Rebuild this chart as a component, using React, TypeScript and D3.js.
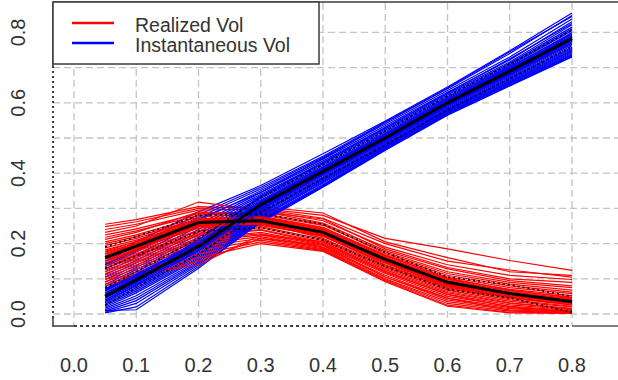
import React from "react";
import * as d3 from "d3";

const xPoints = [0.05, 0.1, 0.2, 0.3, 0.4, 0.5, 0.6, 0.7, 0.8];
const xTicks = [0, 0.1, 0.2, 0.3, 0.4, 0.5, 0.6, 0.7, 0.8];
const yTicks = [0, 0.2, 0.4, 0.6, 0.8];
const yGrid = [0, 0.1, 0.2, 0.3, 0.4, 0.5, 0.6, 0.7, 0.8];
const legendLabels = ["Realized Vol", "Instantaneous Vol"];

const realizedPaths = [
  [0.255, 0.268, 0.305, 0.300, 0.280, 0.215, 0.185, 0.152, 0.124],
  [0.248, 0.262, 0.300, 0.305, 0.287, 0.205, 0.160, 0.120, 0.110],
  [0.240, 0.255, 0.295, 0.298, 0.272, 0.200, 0.150, 0.125, 0.105],
  [0.232, 0.250, 0.318, 0.295, 0.265, 0.190, 0.140, 0.110, 0.098],
  [0.225, 0.242, 0.285, 0.290, 0.270, 0.185, 0.132, 0.100, 0.090],
  [0.218, 0.236, 0.280, 0.292, 0.258, 0.180, 0.128, 0.095, 0.080],
  [0.212, 0.232, 0.290, 0.282, 0.252, 0.176, 0.120, 0.090, 0.075],
  [0.205, 0.225, 0.275, 0.286, 0.255, 0.172, 0.115, 0.085, 0.068],
  [0.200, 0.220, 0.270, 0.278, 0.246, 0.168, 0.110, 0.080, 0.062],
  [0.195, 0.215, 0.268, 0.275, 0.240, 0.165, 0.105, 0.075, 0.058],
  [0.188, 0.210, 0.262, 0.272, 0.238, 0.160, 0.100, 0.070, 0.052],
  [0.182, 0.205, 0.258, 0.268, 0.233, 0.158, 0.095, 0.066, 0.048],
  [0.176, 0.200, 0.265, 0.262, 0.228, 0.152, 0.092, 0.060, 0.044],
  [0.170, 0.195, 0.252, 0.266, 0.236, 0.150, 0.088, 0.057, 0.040],
  [0.165, 0.190, 0.248, 0.258, 0.225, 0.148, 0.085, 0.055, 0.036],
  [0.160, 0.186, 0.244, 0.255, 0.220, 0.145, 0.082, 0.050, 0.032],
  [0.155, 0.182, 0.250, 0.252, 0.222, 0.140, 0.078, 0.046, 0.030],
  [0.150, 0.178, 0.238, 0.260, 0.215, 0.138, 0.075, 0.044, 0.026],
  [0.145, 0.172, 0.235, 0.248, 0.212, 0.134, 0.072, 0.040, 0.022],
  [0.140, 0.168, 0.230, 0.245, 0.208, 0.130, 0.068, 0.036, 0.020],
  [0.135, 0.165, 0.226, 0.240, 0.204, 0.126, 0.064, 0.032, 0.016],
  [0.130, 0.160, 0.222, 0.238, 0.200, 0.122, 0.060, 0.030, 0.014],
  [0.125, 0.155, 0.215, 0.232, 0.198, 0.118, 0.056, 0.026, 0.012],
  [0.120, 0.150, 0.210, 0.228, 0.195, 0.115, 0.050, 0.022, 0.010],
  [0.115, 0.146, 0.205, 0.225, 0.190, 0.110, 0.045, 0.018, 0.008],
  [0.110, 0.140, 0.198, 0.220, 0.188, 0.105, 0.040, 0.015, 0.006],
  [0.104, 0.135, 0.190, 0.215, 0.185, 0.100, 0.035, 0.012, 0.005],
  [0.098, 0.128, 0.180, 0.210, 0.182, 0.098, 0.030, 0.008, 0.004],
  [0.092, 0.120, 0.170, 0.205, 0.180, 0.095, 0.025, 0.005, 0.003],
  [0.085, 0.112, 0.160, 0.200, 0.178, 0.092, 0.022, 0.003, 0.002],
  [0.080, 0.105, 0.150, 0.215, 0.195, 0.105, 0.045, 0.010, 0.004],
  [0.100, 0.110, 0.140, 0.225, 0.205, 0.120, 0.055, 0.020, 0.006],
  [0.165, 0.197, 0.262, 0.270, 0.238, 0.158, 0.094, 0.060, 0.040],
  [0.158, 0.190, 0.257, 0.262, 0.230, 0.152, 0.088, 0.056, 0.034],
  [0.172, 0.200, 0.266, 0.274, 0.242, 0.162, 0.098, 0.064, 0.042],
  [0.150, 0.185, 0.254, 0.258, 0.226, 0.148, 0.084, 0.052, 0.030],
  [0.178, 0.206, 0.270, 0.276, 0.245, 0.166, 0.102, 0.068, 0.046],
  [0.145, 0.180, 0.250, 0.255, 0.222, 0.144, 0.080, 0.048, 0.026],
];

const instantPaths = [
  [0.160, 0.205, 0.290, 0.365, 0.455, 0.548, 0.645, 0.748, 0.855],
  [0.150, 0.195, 0.282, 0.360, 0.448, 0.545, 0.640, 0.740, 0.848],
  [0.142, 0.185, 0.275, 0.355, 0.445, 0.540, 0.635, 0.730, 0.838],
  [0.135, 0.176, 0.265, 0.350, 0.440, 0.535, 0.630, 0.722, 0.830],
  [0.128, 0.168, 0.255, 0.345, 0.435, 0.530, 0.626, 0.716, 0.822],
  [0.120, 0.160, 0.248, 0.340, 0.430, 0.526, 0.622, 0.712, 0.815],
  [0.112, 0.152, 0.240, 0.336, 0.426, 0.522, 0.618, 0.708, 0.810],
  [0.105, 0.145, 0.232, 0.332, 0.422, 0.518, 0.615, 0.705, 0.805],
  [0.098, 0.138, 0.225, 0.328, 0.418, 0.514, 0.612, 0.700, 0.800],
  [0.090, 0.132, 0.218, 0.324, 0.415, 0.510, 0.608, 0.697, 0.795],
  [0.084, 0.126, 0.212, 0.320, 0.412, 0.507, 0.605, 0.694, 0.790],
  [0.078, 0.120, 0.206, 0.316, 0.410, 0.505, 0.603, 0.692, 0.786],
  [0.072, 0.115, 0.200, 0.313, 0.407, 0.502, 0.600, 0.690, 0.782],
  [0.066, 0.110, 0.196, 0.310, 0.404, 0.500, 0.598, 0.688, 0.778],
  [0.060, 0.105, 0.192, 0.307, 0.402, 0.497, 0.596, 0.685, 0.774],
  [0.055, 0.100, 0.188, 0.304, 0.400, 0.494, 0.594, 0.682, 0.770],
  [0.050, 0.095, 0.184, 0.300, 0.397, 0.491, 0.591, 0.680, 0.766],
  [0.045, 0.090, 0.180, 0.297, 0.394, 0.488, 0.588, 0.677, 0.762],
  [0.040, 0.085, 0.176, 0.294, 0.390, 0.485, 0.585, 0.674, 0.758],
  [0.036, 0.080, 0.172, 0.290, 0.387, 0.482, 0.582, 0.671, 0.755],
  [0.032, 0.075, 0.168, 0.287, 0.384, 0.480, 0.580, 0.668, 0.752],
  [0.028, 0.070, 0.164, 0.284, 0.381, 0.478, 0.578, 0.665, 0.749],
  [0.024, 0.065, 0.160, 0.280, 0.378, 0.476, 0.576, 0.662, 0.746],
  [0.020, 0.060, 0.156, 0.277, 0.375, 0.474, 0.574, 0.660, 0.743],
  [0.016, 0.052, 0.152, 0.274, 0.372, 0.472, 0.572, 0.658, 0.740],
  [0.012, 0.045, 0.148, 0.270, 0.368, 0.470, 0.570, 0.655, 0.737],
  [0.008, 0.038, 0.144, 0.267, 0.365, 0.468, 0.568, 0.652, 0.734],
  [0.005, 0.030, 0.140, 0.264, 0.362, 0.466, 0.566, 0.650, 0.732],
  [0.003, 0.020, 0.135, 0.260, 0.360, 0.465, 0.565, 0.648, 0.730],
  [0.010, 0.012, 0.130, 0.262, 0.364, 0.470, 0.572, 0.655, 0.736],
  [0.140, 0.180, 0.270, 0.345, 0.442, 0.544, 0.642, 0.745, 0.845],
  [0.070, 0.105, 0.210, 0.335, 0.430, 0.530, 0.628, 0.725, 0.825],
  [0.058, 0.102, 0.196, 0.312, 0.408, 0.503, 0.603, 0.693, 0.786],
  [0.045, 0.092, 0.188, 0.306, 0.401, 0.496, 0.596, 0.686, 0.778],
  [0.065, 0.108, 0.200, 0.316, 0.412, 0.507, 0.607, 0.697, 0.792],
  [0.040, 0.088, 0.184, 0.302, 0.398, 0.493, 0.593, 0.683, 0.774],
  [0.070, 0.112, 0.204, 0.320, 0.416, 0.511, 0.611, 0.702, 0.797],
  [0.035, 0.082, 0.180, 0.298, 0.394, 0.490, 0.590, 0.680, 0.770],
];

const realizedMean = [0.16, 0.193, 0.26, 0.265, 0.232, 0.155, 0.09, 0.058, 0.035];
const realizedUpper = [0.19, 0.22, 0.28, 0.285, 0.255, 0.175, 0.105, 0.083, 0.05];
const realizedLower = [0.13, 0.165, 0.235, 0.245, 0.21, 0.135, 0.07, 0.046, 0.005];
const instantMean = [0.05, 0.097, 0.192, 0.31, 0.405, 0.5, 0.6, 0.69, 0.783];
const instantUpper = [0.075, 0.12, 0.215, 0.33, 0.425, 0.52, 0.62, 0.71, 0.807];
const instantLower = [0.025, 0.075, 0.17, 0.29, 0.385, 0.48, 0.58, 0.668, 0.76];

const W = 618;
const H = 380;
const font = "'Liberation Sans', Arial, sans-serif";

export default function App() {
  const x = d3.scaleLinear().domain([0, 0.8]).range([74, 572]);
  const y = d3.scaleLinear().domain([0, 0.8]).range([314, 32.4]);
  const line = d3
    .line<number>()
    .x((_, i) => x(xPoints[i]))
    .y((d) => y(d));

  const interleaved: { d: number[]; c: string; k: string }[] = [];
  for (let i = 0; i < Math.max(realizedPaths.length, instantPaths.length); i++) {
    if (realizedPaths[i]) interleaved.push({ d: realizedPaths[i], c: "#ff0000", k: "r" + i });
    if (instantPaths[i]) interleaved.push({ d: instantPaths[i], c: "#0000ff", k: "b" + i });
  }

  const gridColor = "#c4c4c4";
  const axisColor = "#3a3a3a";

  return (
    <svg
      width={W}
      height={H}
      style={{ position: "absolute", left: 0, top: 0, background: "#fff" }}
      fontFamily={font}
    >
      <rect x={0} y={0} width={W} height={H} fill="#fff" />
      {xTicks.map((t) => (
        <line
          key={"vx" + t}
          x1={x(t)}
          x2={x(t)}
          y1={3}
          y2={326}
          stroke={gridColor}
          strokeWidth={1.3}
          strokeDasharray="7,4"
        />
      ))}
      {yGrid.map((t) => (
        <line
          key={"hy" + t}
          x1={53}
          x2={W}
          y1={y(t)}
          y2={y(t)}
          stroke={gridColor}
          strokeWidth={1.3}
          strokeDasharray="7,4"
        />
      ))}
      {interleaved.map((p) => (
        <path key={p.k} d={line(p.d) || ""} fill="none" stroke={p.c} strokeWidth={1.2} />
      ))}
      {[realizedUpper, realizedLower, instantUpper, instantLower].map((d, i) => (
        <path
          key={"dot" + i}
          d={line(d) || ""}
          fill="none"
          stroke="#000"
          strokeWidth={1.6}
          strokeDasharray="2,3"
        />
      ))}
      {[realizedMean, instantMean].map((d, i) => (
        <path key={"mean" + i} d={line(d) || ""} fill="none" stroke="#000" strokeWidth={3} />
      ))}
      <line x1={53} x2={W} y1={2} y2={2} stroke={axisColor} strokeWidth={1.5} />
      <line x1={53} x2={53} y1={2} y2={66} stroke={axisColor} strokeWidth={1.5} />
      <line x1={53} x2={53} y1={66} y2={318} stroke="#000" strokeWidth={1.5} strokeDasharray="2,3" />
      <line x1={53} x2={53} y1={318} y2={326.5} stroke={axisColor} strokeWidth={1.5} />
      <line x1={52.3} x2={x(0)} y1={326} y2={326} stroke={axisColor} strokeWidth={1.5} />
      <line x1={x(0)} x2={x(0.8)} y1={326} y2={326} stroke="#000" strokeWidth={1.5} strokeDasharray="3,3" />
      <line x1={x(0.8)} x2={W} y1={326} y2={326} stroke="#555" strokeWidth={1.5} />
      {xTicks.map((t) => (
        <text key={"xl" + t} x={x(t)} y={372} textAnchor="middle" fontSize={20} fill="#333">
          {t.toFixed(1)}
        </text>
      ))}
      {yTicks.map((t) => (
        <text
          key={"yl" + t}
          transform={`translate(25,${y(t)}) rotate(-90)`}
          textAnchor="middle"
          fontSize={20}
          fill="#333"
        >
          {t.toFixed(1)}
        </text>
      ))}
      <rect x={53} y={2} width={266} height={62} fill="#fff" stroke={axisColor} strokeWidth={1.5} />
      {legendLabels.map((lab, i) => (
        <g key={lab}>
          <line
            x1={72}
            x2={114}
            y1={23 + i * 20}
            y2={23 + i * 20}
            stroke={i === 0 ? "#ff0000" : "#0000ff"}
            strokeWidth={2.5}
          />
          <text x={135} y={32 + i * 20} fontSize={19.5} fill="#333">
            {lab}
          </text>
        </g>
      ))}
    </svg>
  );
}
